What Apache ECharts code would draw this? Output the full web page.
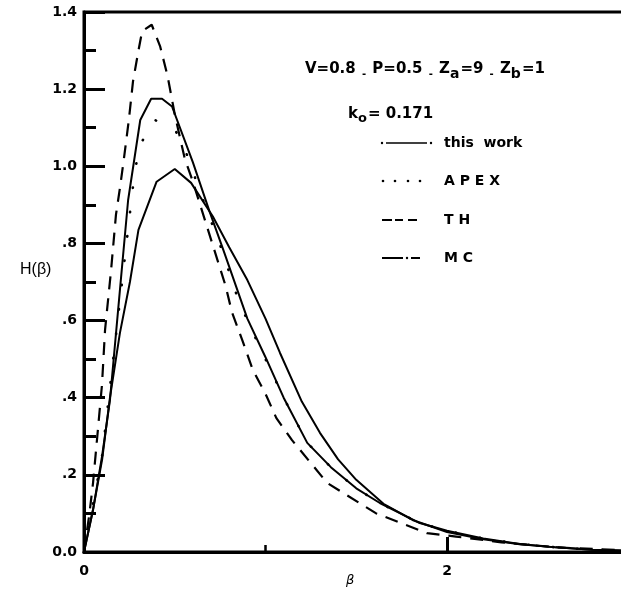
<!DOCTYPE html>
<html><head><meta charset="utf-8">
<script src="https://cdn.jsdelivr.net/npm/echarts@6/dist/echarts.min.js"></script>
<style>html,body{margin:0;padding:0;background:#fff}#c{width:621px;height:594px}</style>
</head><body><div id="c"></div>
<script>
// ---- data ----
const thisWorkBeta = [0,0.05,0.1,0.143,0.2,0.243,0.31,0.37,0.43,0.485,0.6,0.69,0.77,0.9,1.0,1.1,1.23,1.36,1.5,1.63,1.85,2.0,2.2,2.4,2.6,2.8,3.0];
const thisWorkH    = [0,0.11,0.25,0.394,0.69,0.912,1.12,1.175,1.175,1.155,1.01,0.885,0.78,0.605,0.505,0.40,0.283,0.22,0.165,0.127,0.075,0.055,0.035,0.021,0.012,0.006,0.003];

const apexBeta = [0,0.1,0.2,0.28,0.314,0.39,0.5,0.567,0.65,0.777,0.82,0.9,1.0,1.1,1.23,1.36,1.5,1.63,1.85,2.0,2.2,2.4,2.6,2.8,3.0];
const apexH    = [0,0.25,0.66,0.99,1.06,1.12,1.097,1.03,0.92,0.762,0.692,0.6,0.5,0.40,0.283,0.22,0.165,0.127,0.075,0.055,0.035,0.021,0.012,0.006,0.003];

const thBeta = [0,0.03,0.05,0.07,0.099,0.116,0.149,0.176,0.2,0.22,0.247,0.27,0.3,0.32,0.373,0.42,0.46,0.5,0.555,0.6,0.64,0.7,0.78,0.815,0.876,0.93,1.0,1.06,1.146,1.34,1.61,1.89,2.05,2.3,2.6,3.0];
const thH    = [0,0.1,0.18,0.283,0.433,0.576,0.73,0.874,0.95,1.02,1.12,1.22,1.30,1.35,1.367,1.31,1.235,1.135,1.02,0.96,0.9,0.81,0.69,0.622,0.544,0.472,0.41,0.347,0.29,0.179,0.10,0.049,0.04,0.025,0.012,0.004];

const mcBeta = [0,0.05,0.1,0.143,0.198,0.253,0.3,0.4,0.5,0.59,0.71,0.8,0.9,1.0,1.08,1.2,1.3,1.4,1.5,1.65,1.81,2.0,2.2,2.4,2.6,2.8,3.0];
const mcH    = [0,0.11,0.24,0.40,0.568,0.70,0.835,0.96,0.993,0.957,0.87,0.79,0.705,0.605,0.516,0.39,0.309,0.24,0.187,0.125,0.083,0.052,0.033,0.02,0.012,0.006,0.003];

const yTickLabels = ['0.0','.2','.4','.6','.8','1.0','1.2','1.4'];
const xTickLabels = {0:'0', 2:'2'};
const seriesNames = ['this work','APEX','TH','MC'];
const legendLabels = ['this  work','A P E X','T H','M C'];

// ---- build ----
const zip = (a,b) => a.map((v,i)=>[v,b[i]]);
const chart = echarts.init(document.getElementById('c'), null, {renderer:'canvas'});
const K = '#000';
const tickFont = {fontFamily:'DejaVu Sans', fontWeight:'bold', fontSize:14, color:K};

const legendRowsY = [143,181,220,258];
const legendGraphics = [];
legendGraphics.push({type:'circle', shape:{cx:382,cy:legendRowsY[0],r:1.2}, style:{fill:K}});
legendGraphics.push({type:'line', shape:{x1:386,y1:legendRowsY[0],x2:427,y2:legendRowsY[0]}, style:{stroke:K,lineWidth:1.6}});
legendGraphics.push({type:'circle', shape:{cx:431,cy:legendRowsY[0],r:1.2}, style:{fill:K}});
[383,395,408,420].forEach(x=>legendGraphics.push({type:'circle', shape:{cx:x,cy:legendRowsY[1],r:1.3}, style:{fill:K}}));
[[382,392],[395,403],[408,417]].forEach(d=>legendGraphics.push({type:'line', shape:{x1:d[0],y1:legendRowsY[2],x2:d[1],y2:legendRowsY[2]}, style:{stroke:K,lineWidth:2}}));
legendGraphics.push({type:'line', shape:{x1:382,y1:legendRowsY[3],x2:403,y2:legendRowsY[3]}, style:{stroke:K,lineWidth:2}});
legendGraphics.push({type:'circle', shape:{cx:407,cy:legendRowsY[3],r:1.2}, style:{fill:K}});
legendGraphics.push({type:'line', shape:{x1:411,y1:legendRowsY[3],x2:420,y2:legendRowsY[3]}, style:{stroke:K,lineWidth:2}});
legendLabels.forEach((t,i)=>legendGraphics.push({type:'text', style:{text:t, x:444, y:legendRowsY[i], verticalAlign:'middle', font:'bold 14px "DejaVu Sans"', fill:K}}));

const option = {
  animation:false,
  backgroundColor:'#fff',
  grid:{left:84, top:12, width:544.5, bottom:42, containLabel:false, outerBoundsMode:'none',
        show:true, borderColor:K, borderWidth:3, backgroundColor:'transparent'},
  title:[
    {text:'V=0.8 {s|-} P=0.5 {s|-} Z{sub|a}=9 {s|-} Z{sub|b}=1', left:300, top:55,
     textStyle:{fontFamily:'DejaVu Sans', fontWeight:'bold', fontSize:15, color:K, lineHeight:18,
       rich:{sub:{fontFamily:'DejaVu Sans', fontWeight:'bold', fontSize:14, color:K, padding:[10,1,0,0]},
             s:{fontFamily:'DejaVu Sans', fontWeight:'bold', fontSize:10, color:K, padding:[10,1,0,1]}}}},
    {text:'k{sub|o}= 0.171', left:343, top:100,
     textStyle:{fontFamily:'DejaVu Sans', fontWeight:'bold', fontSize:15, color:K, lineHeight:18,
       rich:{sub:{fontFamily:'DejaVu Sans', fontWeight:'bold', fontSize:13, color:K, padding:[10,1,0,0]}}}}
  ],
  xAxis:[
    {type:'value', min:0, max:3, interval:2,
     axisLine:{show:true, lineStyle:{color:K, width:3}},
     axisTick:{show:true, inside:true, length:15, lineStyle:{color:K, width:3}},
     axisLabel:{...tickFont, margin:12, formatter:v=> (xTickLabels[v]!==undefined ? xTickLabels[v] : '')},
     splitLine:{show:false}},
    {type:'value', min:0, max:3, interval:1, position:'bottom',
     axisLine:{show:false},
     axisTick:{show:true, inside:true, length:7, lineStyle:{color:K, width:2.5}},
     axisLabel:{show:false}, splitLine:{show:false}}
  ],
  yAxis:{type:'value', min:0, max:1.4, interval:0.2,
     axisLine:{show:true, lineStyle:{color:K, width:3}},
     axisTick:{show:true, inside:true, length:21, lineStyle:{color:K, width:3}},
     minorTick:{show:true, splitNumber:2, length:12, lineStyle:{color:K, width:3}},
     axisLabel:{...tickFont, margin:7, formatter:v=> yTickLabels[Math.round(v/0.2)] || ''},
     splitLine:{show:false}, minorSplitLine:{show:false}},
  graphic:[
    {type:'text', style:{text:'H(β)', x:20, y:270, verticalAlign:'middle', font:'16px "Liberation Sans"', fill:K}},
    {type:'text', style:{text:'β', x:346, y:581, verticalAlign:'middle', font:'italic 13px "DejaVu Sans"', fill:K}},
    ...legendGraphics
  ],
  series:[
    {name:seriesNames[0], type:'line', data:zip(thisWorkBeta,thisWorkH), showSymbol:false, silent:true,
     lineStyle:{color:K, width:2}},
    {name:seriesNames[1], type:'line', data:zip(apexBeta,apexH), showSymbol:false, silent:true,
     lineStyle:{color:K, width:2.6, type:[0.5,24], cap:'round'}},
    {name:seriesNames[2], type:'line', data:zip(thBeta,thH), showSymbol:false, silent:true,
     lineStyle:{color:K, width:2.2, type:[13,9]}},
    {name:seriesNames[3], type:'line', data:zip(mcBeta,mcH), showSymbol:false, silent:true,
     lineStyle:{color:K, width:2}}
  ]
};
chart.setOption(option);
</script></body></html>
